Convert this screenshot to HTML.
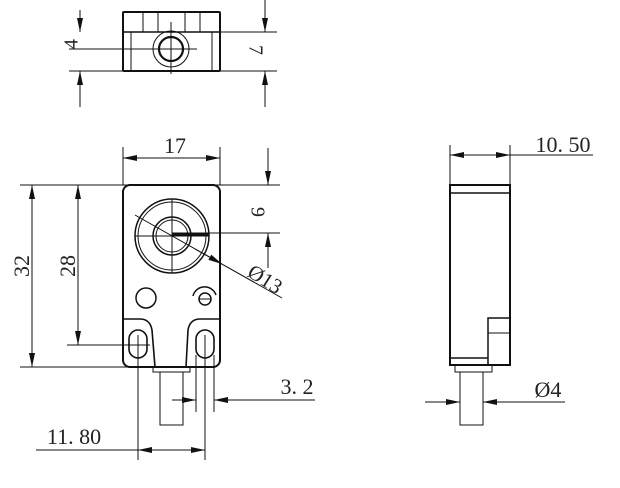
<!DOCTYPE html>
<html><head><meta charset="utf-8"><style>
html,body{margin:0;padding:0;background:#fff;}
svg{display:block}
text{font-family:"Liberation Serif",serif;fill:#222;}
</style></head><body>
<svg width="620" height="488" viewBox="0 0 620 488" xmlns="http://www.w3.org/2000/svg">
<defs>
<marker id="a" viewBox="0 0 14 6" refX="14" refY="3" markerWidth="14" markerHeight="6" orient="auto-start-reverse" markerUnits="userSpaceOnUse"><path d="M0,0 L14,3 L0,6 z" fill="#111"/></marker>
</defs>
<g stroke="#111" fill="none" stroke-width="1">
<!-- top view -->
<rect x="123" y="12" width="97" height="59" stroke-width="2" rx="1"/>
<line x1="123" y1="32" x2="220" y2="32" stroke-width="1.5"/>
<line x1="143" y1="12" x2="143" y2="32"/><line x1="158" y1="12" x2="158" y2="32"/>
<line x1="185" y1="12" x2="185" y2="32"/><line x1="200" y1="12" x2="200" y2="32"/>
<line x1="131" y1="32" x2="131" y2="71"/><line x1="212" y1="32" x2="212" y2="71"/>
<circle cx="171" cy="49" r="18"/><circle cx="171" cy="49" r="12" stroke-width="2.2"/>
<line x1="171" y1="22" x2="171" y2="74"/>
<line x1="69" y1="49" x2="197" y2="49"/>
<line x1="69" y1="71" x2="123" y2="71"/>
<line x1="80" y1="10" x2="80" y2="32" marker-end="url(#a)"/>
<line x1="80" y1="107" x2="80" y2="71" marker-end="url(#a)"/>
<line x1="220" y1="32" x2="277" y2="32"/><line x1="220" y1="71" x2="277" y2="71"/>
<line x1="265" y1="0" x2="265" y2="32" marker-end="url(#a)"/>
<line x1="265" y1="107" x2="265" y2="71" marker-end="url(#a)"/>
<!-- front view -->
<rect x="123" y="185" width="97" height="182" rx="7" stroke-width="2"/>
<path d="M123,319 H140 Q150,319 152,330 L155,367 M220,319 H200 Q190,319 188,330 L186,367" stroke-width="1.6"/>
<rect x="129" y="330" width="18" height="28" rx="9" stroke-width="1.6"/>
<rect x="196" y="330" width="18" height="28" rx="9" stroke-width="1.6"/>
<circle cx="172" cy="236" r="37" stroke-width="1.5"/><circle cx="172" cy="236" r="34"/>
<circle cx="172" cy="236" r="19" stroke-width="1.5"/><circle cx="172" cy="236" r="16"/>
<line x1="135" y1="236" x2="209" y2="236"/><line x1="172" y1="199" x2="172" y2="273"/>
<line x1="172" y1="234.5" x2="209" y2="234.5" stroke-width="3"/>
<circle cx="146" cy="298" r="10" stroke-width="1.5"/>
<circle cx="205" cy="299" r="6" stroke-width="1.5"/>
<line x1="199" y1="299" x2="211" y2="299"/>
<path d="M193,296 A12,12 0 0 1 216,295" stroke-width="1.5"/>
<line x1="135" y1="215" x2="282" y2="298"/>
<line x1="195" y1="249" x2="222" y2="264" marker-end="url(#a)"/>
<rect x="153" y="367" width="37" height="5"/>
<rect x="160" y="372" width="23" height="53"/>
<line x1="123" y1="147" x2="123" y2="185"/><line x1="220" y1="147" x2="220" y2="185"/>
<line x1="123" y1="158" x2="220" y2="158" marker-start="url(#a)" marker-end="url(#a)"/>
<line x1="20" y1="185" x2="280" y2="185"/>
<line x1="20" y1="367" x2="130" y2="367"/>
<line x1="67" y1="345" x2="150" y2="345"/>
<line x1="32" y1="185" x2="32" y2="367" marker-start="url(#a)" marker-end="url(#a)"/>
<line x1="78" y1="185" x2="78" y2="345" marker-start="url(#a)" marker-end="url(#a)"/>
<line x1="172" y1="233" x2="280" y2="233"/>
<line x1="268" y1="148" x2="268" y2="185" marker-end="url(#a)"/>
<line x1="268" y1="268" x2="268" y2="233" marker-end="url(#a)"/>
<line x1="196" y1="355" x2="196" y2="412"/><line x1="214" y1="355" x2="214" y2="412"/>
<line x1="172" y1="400" x2="196" y2="400" marker-end="url(#a)"/>
<line x1="315" y1="400" x2="214" y2="400" marker-end="url(#a)"/>
<line x1="138" y1="335" x2="138" y2="460"/><line x1="205" y1="335" x2="205" y2="460"/>
<line x1="36" y1="450" x2="205" y2="450"/>
<line x1="162" y1="450" x2="138" y2="450" marker-end="url(#a)"/>
<line x1="181" y1="450" x2="205" y2="450" marker-end="url(#a)"/>
<!-- side view -->
<rect x="450" y="185" width="60" height="180" stroke-width="2"/>
<line x1="450" y1="193" x2="510" y2="193" stroke-width="1.5"/>
<line x1="450" y1="358" x2="488" y2="358" stroke-width="1.5"/>
<rect x="488" y="318" width="22" height="47" stroke-width="1.5"/>
<line x1="488" y1="333" x2="510" y2="333"/>
<rect x="455" y="365" width="37" height="7"/>
<rect x="460" y="372" width="23" height="53"/>
<line x1="450" y1="145" x2="450" y2="185"/><line x1="510" y1="145" x2="510" y2="185"/>
<line x1="450" y1="155" x2="593" y2="155"/>
<line x1="474" y1="155" x2="450" y2="155" marker-end="url(#a)"/>
<line x1="486" y1="155" x2="510" y2="155" marker-end="url(#a)"/>
<line x1="425" y1="402" x2="460" y2="402" marker-end="url(#a)"/>
<line x1="565" y1="402" x2="483" y2="402" marker-end="url(#a)"/>
</g>
<g font-size="22">
<text x="73" y="44" transform="rotate(-90 73 44)" text-anchor="middle" dominant-baseline="middle" font-size="20">4</text>
<text x="254" y="50" transform="rotate(90 254 50)" text-anchor="middle" dominant-baseline="middle" font-size="20">7</text>
<text x="175" y="153" text-anchor="middle">17</text>
<text x="24" y="266" transform="rotate(-90 24 266)" text-anchor="middle" dominant-baseline="middle">32</text>
<text x="70" y="266" transform="rotate(-90 70 266)" text-anchor="middle" dominant-baseline="middle">28</text>
<text x="256" y="212" transform="rotate(90 256 212)" text-anchor="middle" dominant-baseline="middle" font-size="20">9</text>
<text x="264" y="281" transform="rotate(32 264 281)" text-anchor="middle" dominant-baseline="middle" font-size="21">Ø13</text>
<text x="297" y="394" text-anchor="middle">3. 2</text>
<text x="74" y="444" text-anchor="middle">11. 80</text>
<text x="563" y="152" text-anchor="middle">10. 50</text>
<text x="548" y="397" text-anchor="middle">Ø4</text>
</g>
</svg>
</body></html>
